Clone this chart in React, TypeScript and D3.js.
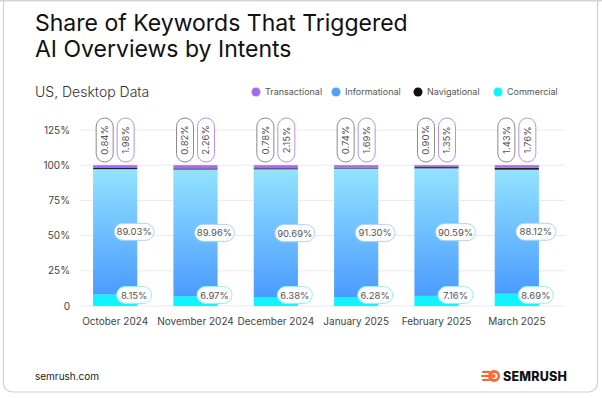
import React from 'react';
import * as d3 from 'd3';

const months = ['October 2024', 'November 2024', 'December 2024', 'January 2025', 'February 2025', 'March 2025'];
const commercial = [8.15, 6.97, 6.38, 6.28, 7.16, 8.69];
const informational = [89.03, 89.96, 90.69, 91.3, 90.59, 88.12];
const navigational = [0.84, 0.82, 0.78, 0.74, 0.9, 1.43];
const transactional = [1.98, 2.26, 2.15, 1.69, 1.35, 1.76];
const yTicks = [0, 25, 50, 75, 100, 125];

const legend = [
  { name: 'Transactional', color: '#a56cf0' },
  { name: 'Informational', color: '#4fa3ff' },
  { name: 'Navigational', color: '#111111' },
  { name: 'Commercial', color: '#12f2ff' },
];

const W = 602;
const H = 398;
const FONT = 'Inter, "Open Sans", sans-serif';

const fmt = (v: number) => v.toFixed(2) + '%';

export default function App() {
  const x = d3.scaleBand<string>().domain(months).range([75, 557]).paddingInner(0.45).paddingOuter(0.225);
  const y = d3.scaleLinear().domain([0, 125]).range([306, 130]);
  const bw = x.bandwidth();

  const hPill = (cx: number, cy: number, txt: string, stroke: string, key: string) => {
    const w = txt.length * 4.8 + 11;
    return (
      <g key={key}>
        <rect x={cx - w / 2} y={cy - 8.5} width={w} height={17} rx={8.5} fill="#fff" stroke={stroke} strokeWidth={1} />
        <text x={cx} y={cy + 3.5} textAnchor="middle" fontSize={9.5} fill="#555">{txt}</text>
      </g>
    );
  };

  const vPill = (cx: number, cy: number, txt: string, stroke: string, key: string) => (
    <g key={key}>
      <rect x={cx - 8.5} y={cy - 22} width={17} height={44} rx={8.5} fill="#fff" stroke={stroke} strokeWidth={1} />
      <text transform={`translate(${cx + 3.3},${cy}) rotate(-90)`} textAnchor="middle" fontSize={9.5} fill="#555">{txt}</text>
    </g>
  );

  return (
    <div style={{ position: 'absolute', left: 0, top: 0 }}>
      <svg width={W} height={H} style={{ display: 'block', fontFamily: FONT }}>
        <defs>
          <linearGradient id="infoGrad" x1="0" y1="0" x2="0" y2="1">
            <stop offset="0%" stopColor="#92e3ff" />
            <stop offset="100%" stopColor="#4b9bff" />
          </linearGradient>
        </defs>
        <rect x={0} y={0} width={W} height={H} fill="#fff" />
        <rect x={3.5} y={-10} width={594} height={402} rx={9} fill="#fff" stroke="#cfd0d6" strokeWidth={1.2} />
        <line x1={0} x2={W} y1={0.5} y2={0.5} stroke="#d4d4d8" strokeWidth={2} />

        <text x={35} y={31} fontSize={23} fontWeight={400} fill="#111">Share of Keywords That Triggered</text>
        <text x={35} y={57} fontSize={23} fontWeight={400} fill="#111">AI Overviews by Intents</text>
        <text x={35} y={97} fontSize={14} fontWeight={300} fill="#333">US, Desktop Data</text>

        {legend.map((l, i) => {
          const lx = [256, 336, 418, 498][i];
          return (
            <g key={l.name}>
              <circle cx={lx} cy={92} r={4.5} fill={l.color} />
              <text x={lx + 9} y={95} fontSize={9} fill="#555">{l.name}</text>
            </g>
          );
        })}

        {yTicks.map(t => (
          <g key={t}>
            <line x1={80} x2={565} y1={y(t)} y2={y(t)} stroke="#e6eaef" strokeWidth={1} />
            <text x={70} y={y(t) + 3.5} textAnchor="end" fontSize={10} fill="#444">{t === 0 ? '0' : t + '%'}</text>
          </g>
        ))}

        {months.map((m, i) => {
          const x0 = x(m)!;
          const cx = x0 + bw / 2;
          const c = commercial[i];
          const inf = informational[i];
          const nav = navigational[i];
          const tr = transactional[i];
          return (
            <g key={m}>
              <rect x={x0} y={y(c)} width={bw} height={y(0) - y(c)} fill="#12f2ff" />
              <rect x={x0} y={y(c + inf)} width={bw} height={y(c) - y(c + inf)} fill="url(#infoGrad)" />
              <rect x={x0} y={y(c + inf + nav)} width={bw} height={y(c + inf) - y(c + inf + nav)} fill="#222" />
              <rect x={x0} y={y(c + inf + nav + tr)} width={bw} height={y(c + inf + nav) - y(c + inf + nav + tr)} fill="#a56cf0" />
              {hPill(cx + 19, y(0) - 11, fmt(c), '#8ff3ff', 'c' + i)}
              {hPill(cx + 19, y(c + inf / 2), fmt(inf), '#a9d3ff', 'i' + i)}
              {vPill(cx - 10.5, 140, fmt(nav), '#8a8a8a', 'n' + i)}
              {vPill(cx + 10.5, 140, fmt(tr), '#b88ef2', 't' + i)}
              <text x={cx} y={325} textAnchor="middle" fontSize={10} fill="#444">{m}</text>
            </g>
          );
        })}

        <text x={35} y={380} fontSize={10} fill="#222">semrush.com</text>
        <g transform="translate(483,376)">
          <path d="M0,-4 L6,-4 M-1,0 L5,0 M0,4 L6,4" stroke="#ff642d" strokeWidth={2} strokeLinecap="round" />
          <circle cx={11} cy={0} r={6} fill="#ff642d" />
          <circle cx={11.5} cy={0} r={3} fill="#fff" />
          <circle cx={10.5} cy={0} r={2} fill="#ff642d" />
          <text x={20} y={4.5} fontSize={12.5} fontWeight={800} fill="#111" letterSpacing={0.2}>SEMRUSH</text>
        </g>
      </svg>
    </div>
  );
}
